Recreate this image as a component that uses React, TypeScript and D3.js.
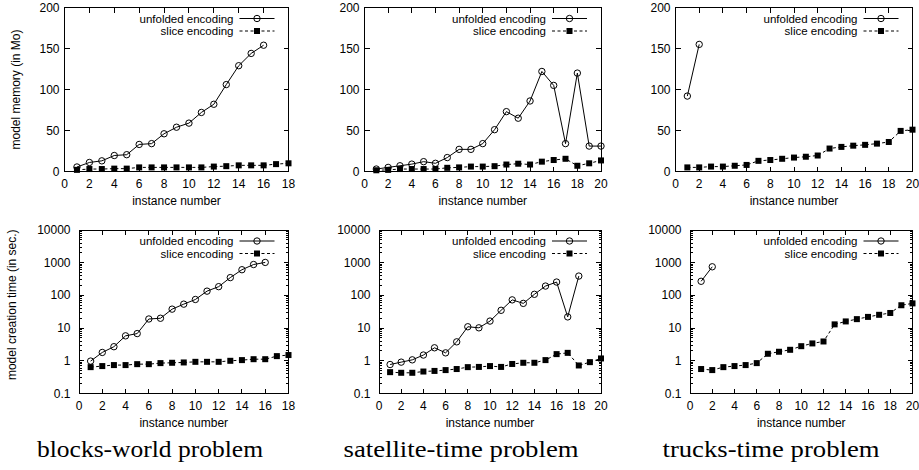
import React from 'react';
import * as d3 from 'd3';

// memory (Mo), instance 1..n
const blocksMemUnfolded = [5.5, 11, 13, 19.5, 20.5, 33, 34, 46, 54, 59, 72, 82, 106, 129, 144, 154];
const blocksMemSlice = [2, 3, 3, 3.5, 3.5, 5, 5, 5, 5, 5, 5, 6, 6.5, 7.5, 7.5, 7.5, 9, 10];
const satMemUnfolded = [3, 5, 7, 9, 12, 10, 17, 27, 27, 34, 51, 73, 65, 86, 122, 105, 34, 120, 31, 31];
const satMemSlice = [1.5, 2, 3, 3, 3, 3, 4.5, 5, 6, 6, 6.5, 8.5, 9.5, 8.5, 12, 14, 15.5, 7, 10, 13.5];
const trucksMemUnfolded = [92, 155];
const trucksMemSlice = [5, 5, 6, 6, 7, 8, 13, 14, 15.5, 17, 18, 19.5, 28, 30, 31.5, 32.5, 34, 36, 49.5, 51];

// creation time (sec.)
const blocksTimeUnfolded = [0.98, 1.8, 2.7, 5.8, 6.8, 19, 20, 38, 54, 75, 135, 185, 350, 610, 880, 1020];
const blocksTimeSlice = [0.64, 0.69, 0.74, 0.74, 0.79, 0.79, 0.85, 0.87, 0.89, 0.93, 0.93, 0.93, 1.0, 1.05, 1.12, 1.12, 1.39, 1.5];
const satTimeUnfolded = [0.77, 0.91, 1.07, 1.5, 2.5, 1.75, 3.8, 11, 10.2, 16.4, 35, 73, 57, 108, 193, 256, 22, 390];
const satTimeSlice = [0.45, 0.43, 0.43, 0.47, 0.49, 0.52, 0.56, 0.64, 0.65, 0.69, 0.65, 0.8, 0.87, 0.87, 1.05, 1.6, 1.75, 0.72, 0.91, 1.18];
const trucksTimeUnfolded = [270, 750];
const trucksTimeSlice = [0.56, 0.52, 0.64, 0.69, 0.74, 0.85, 1.64, 1.89, 2.17, 2.8, 3.4, 3.9, 13, 16, 18.8, 22, 25.5, 29, 50, 57];

const xMaxes = [18, 20, 20];
const memTicks = [0, 50, 100, 150, 200];
const timeTicks = [0.1, 1, 10, 100, 1000, 10000];
const seriesNames = ['unfolded encoding', 'slice encoding'];
const captions = ['blocks-world problem', 'satellite-time problem', 'trucks-time problem'];
const yTitles = ['model memory (in Mo)', 'model creation time (in sec.)'];
const xTitle = 'instance number';

const FONT = '"Liberation Sans", Arial, Helvetica, sans-serif';

const topBoxes = [
  { x0: 64.5, x1: 288.5 },
  { x0: 364.5, x1: 601 },
  { x0: 675.5, x1: 912.5 },
];
const bottomBoxes = [
  { x0: 79, x1: 288.5 },
  { x0: 379, x1: 601 },
  { x0: 690, x1: 912.5 },
];

const isPow10 = (t: number) => Math.abs(Math.log10(t) - Math.round(Math.log10(t))) < 1e-6;
const fmtLog = (t: number) => (t < 1 ? String(t) : String(Math.round(t)));

function Panel({ box, y0, y1, unfolded, slice, log, xMax, yTitle, labelGap }: any) {
  const x = d3.scaleLinear().domain([0, xMax]).range([box.x0, box.x1]);
  const y: any = log
    ? d3.scaleLog().domain([0.1, 10000]).range([y1, y0])
    : d3.scaleLinear().domain([0, 200]).range([y1, y0]);
  const xTicks = d3.range(0, xMax + 1, 2);
  const yTicks = log ? timeTicks : memTicks;
  const minor = log ? y.ticks().filter((t: number) => !isPow10(t)) : [];
  const line = d3
    .line<number>()
    .x((d, i) => x(i + 1))
    .y(d => y(d));
  const T = 5;
  const t2 = 2.5;
  const lx1 = box.x1 - 14,
    lx0 = box.x1 - 49,
    lm = box.x1 - 31.5,
    ltext = box.x1 - 55;
  const r1 = y0 + 11,
    r2 = y0 + 23.5;
  return (
    <g>
      <g stroke="#000" strokeWidth={1} shapeRendering="crispEdges">
        {xTicks.map(t => (
          <g key={'x' + t}>
            <line x1={x(t)} x2={x(t)} y1={y1} y2={y1 - T} />
            <line x1={x(t)} x2={x(t)} y1={y0} y2={y0 + T} />
          </g>
        ))}
        {yTicks.map(t => (
          <g key={'y' + t}>
            <line x1={box.x0} x2={box.x0 + T} y1={y(t)} y2={y(t)} />
            <line x1={box.x1} x2={box.x1 - T} y1={y(t)} y2={y(t)} />
          </g>
        ))}
        {minor.map((t: number, i: number) => (
          <g key={'m' + i}>
            <line x1={box.x0} x2={box.x0 + t2} y1={y(t)} y2={y(t)} />
            <line x1={box.x1} x2={box.x1 - t2} y1={y(t)} y2={y(t)} />
          </g>
        ))}
        <rect x={box.x0} y={y0} width={box.x1 - box.x0} height={y1 - y0} fill="none" />
      </g>
      <g fontFamily={FONT} fontSize={12} fill="#000">
        {xTicks.map(t => (
          <text key={'xl' + t} x={x(t)} y={y1 + 16} textAnchor="middle">
            {t}
          </text>
        ))}
        {yTicks.map(t => (
          <text key={'yl' + t} x={box.x0 - labelGap} y={y(t)} textAnchor="end" dominantBaseline="central">
            {log ? fmtLog(t) : t}
          </text>
        ))}
        <text x={(box.x0 + box.x1) / 2} y={y1 + 33} textAnchor="middle">
          {xTitle}
        </text>
        {yTitle && (
          <text
            transform={`translate(${yTitle.x},${(y0 + y1) / 2 + yTitle.dy}) rotate(-90)`}
            textAnchor="middle"
            dominantBaseline="central"
          >
            {yTitle.text}
          </text>
        )}
      </g>
      <g fontFamily={FONT} fontSize={11.5} fill="#000">
        <text x={ltext} y={r1} textAnchor="end" dominantBaseline="central">
          {seriesNames[0]}
        </text>
        <text x={ltext} y={r2} textAnchor="end" dominantBaseline="central">
          {seriesNames[1]}
        </text>
      </g>
      {/* legend samples */}
      <line x1={lx0} x2={lx1} y1={r1} y2={r1} stroke="#000" strokeWidth={1} />
      <circle cx={lm} cy={r1} r={3.2} fill="none" stroke="#000" strokeWidth={1} />
      <line x1={lx0} x2={lx1} y1={r2} y2={r2} stroke="#000" strokeWidth={1} strokeDasharray="3,2.5" />
      <rect x={lm - 3} y={r2 - 3} width={6} height={6} fill="#000" />
      {/* series */}
      <path d={line(slice) || ''} fill="none" stroke="#000" strokeWidth={1} strokeDasharray="3,2.5" />
      <path d={line(unfolded) || ''} fill="none" stroke="#000" strokeWidth={1} />
      {slice.map((d: number, i: number) => (
        <rect key={'s' + i} x={x(i + 1) - 3} y={y(d) - 3} width={6} height={6} fill="#000" />
      ))}
      {unfolded.map((d: number, i: number) => (
        <circle key={'u' + i} cx={x(i + 1)} cy={y(d)} r={3.2} fill="none" stroke="#000" strokeWidth={1} />
      ))}
    </g>
  );
}

export default function App() {
  const mem = [
    [blocksMemUnfolded, blocksMemSlice],
    [satMemUnfolded, satMemSlice],
    [trucksMemUnfolded, trucksMemSlice],
  ];
  const time = [
    [blocksTimeUnfolded, blocksTimeSlice],
    [satTimeUnfolded, satTimeSlice],
    [trucksTimeUnfolded, trucksTimeSlice],
  ];
  const capCenters = [150, 461, 771];
  const capWidths = [226, 235, 217];
  return (
    <svg width={919} height={470} style={{ position: 'absolute', left: 0, top: 0, background: '#fff' }}>
      {mem.map((s, i) => (
        <Panel
          key={'m' + i}
          box={topBoxes[i]}
          y0={7.5}
          y1={171.5}
          unfolded={s[0]}
          slice={s[1]}
          log={false}
          xMax={xMaxes[i]}
          labelGap={5}
          yTitle={i === 0 ? { x: 16, dy: 0, text: yTitles[0] } : null}
        />
      ))}
      {time.map((s, i) => (
        <Panel
          key={'t' + i}
          box={bottomBoxes[i]}
          y0={230}
          y1={393.5}
          unfolded={s[0]}
          slice={s[1]}
          log={true}
          xMax={xMaxes[i]}
          labelGap={8.5}
          yTitle={i === 0 ? { x: 12, dy: -7, text: yTitles[1] } : null}
        />
      ))}
      {captions.map((c, i) => (
        <text
          key={c}
          x={capCenters[i]}
          y={457}
          textAnchor="middle"
          fontFamily='"Liberation Serif", "Times New Roman", serif'
          fontSize={23}
          textLength={capWidths[i]}
          lengthAdjust="spacingAndGlyphs"
          fill="#000"
        >
          {c}
        </text>
      ))}
    </svg>
  );
}
